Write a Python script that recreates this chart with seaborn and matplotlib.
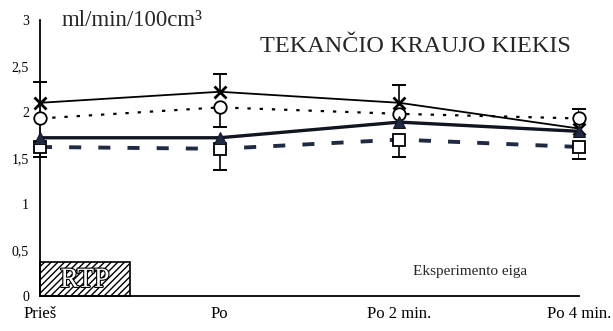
import numpy as np
import pandas as pd
import matplotlib
matplotlib.use("Agg")
import matplotlib.pyplot as plt
import matplotlib.patheffects as pe
import seaborn as sns
from matplotlib.patches import Rectangle

categories = ["Prieš", "Po", "Po 2 min.", "Po 4 min."]
x_series = [2.10, 2.22, 2.10, 1.82]
circle_series = [1.93, 2.05, 1.98, 1.93]
triangle_series = [1.72, 1.72, 1.89, 1.79]
square_series = [1.62, 1.60, 1.70, 1.62]
x_err_up = [0.23, 0.19, 0.19, 0.0]
circle_err_down = [0.0, 0.21, 0.0, 0.0]
circle_err_up = [0.0, 0.0, 0.0, 0.10]
square_err_down = [0.11, 0.23, 0.19, 0.13]
yticks = [0, 0.5, 1, 1.5, 2, 2.5, 3]
ytick_labels = ["0", "0,5", "1", "1,5", "2", "2,5", "3"]

sns.set_theme(style="white")
plt.rcParams["font.family"] = ["Liberation Serif", "DejaVu Serif"]

fig = plt.figure(figsize=(6.13, 3.31), dpi=100)
ax = fig.add_axes([40 / 613, 35 / 331, 539 / 613, 276 / 331])

pos = np.arange(len(categories))
df = pd.DataFrame({"pos": pos, "x": x_series, "c": circle_series,
                   "t": triangle_series, "s": square_series})

navy = "#1f2a44"
sns.lineplot(data=df, x="pos", y="x", ax=ax, color="black", lw=1.3,
             marker="x", markersize=9, markeredgewidth=2, markeredgecolor="black",
             clip_on=False, zorder=4)
sns.lineplot(data=df, x="pos", y="c", ax=ax, color="black", lw=1.6,
             linestyle=(0, (1.5, 4)), marker="o", markersize=9,
             markerfacecolor="white", markeredgecolor="black", markeredgewidth=1.3,
             clip_on=False, zorder=4)
sns.lineplot(data=df, x="pos", y="t", ax=ax, color="#111522", lw=2.4,
             marker="^", markersize=8, markerfacecolor=navy, markeredgecolor="#111522",
             clip_on=False, zorder=5)
sns.lineplot(data=df, x="pos", y="s", ax=ax, color=navy, lw=2.8,
             linestyle=(0, (3.1, 4.4)), marker="s", markersize=9,
             markerfacecolor="white", markeredgecolor="black", markeredgewidth=1.3,
             clip_on=False, zorder=4)


# error bars drawn only on the side where a value exists
def err_clean(xs, ys, lo, hi):
    xs = np.asarray(xs, float)
    ys = np.asarray(ys, float)
    for arr, sign in ((np.asarray(lo, float), -1), (np.asarray(hi, float), 1)):
        m = arr > 0
        if not m.any():
            continue
        ends = ys[m] + sign * arr[m]
        ax.vlines(xs[m], ys[m], ends, color="black", lw=1.2, zorder=3)
        ax.scatter(xs[m], ends, marker="_", s=110, color="black", linewidths=1.4,
                   zorder=3, clip_on=False)


err_clean(pos, x_series, np.zeros(4), x_err_up)
err_clean(pos, circle_series, circle_err_down, circle_err_up)
err_clean(pos, square_series, square_err_down, np.zeros(4))

# RTP hatched box
plt.rcParams["hatch.linewidth"] = 1.0
ax.add_patch(Rectangle((0, 0), 0.5, 0.37, facecolor="white", edgecolor="black",
                       hatch="/////", lw=1.2, zorder=2, clip_on=False))
ax.text(0.25, 0.17, "RTP", ha="center", va="center", fontsize=20,
        color="white", zorder=3,
        path_effects=[pe.withStroke(linewidth=1.6, foreground="black")])

ax.set_xlim(0, 3)
ax.set_ylim(0, 3)
ax.set_xticks(pos)
ax.set_xticklabels(categories, fontsize=12)
ax.set_yticks(yticks)
ax.set_yticklabels(ytick_labels, fontsize=10)
ax.set_xlabel("")
ax.set_ylabel("")
for sp in ["top", "right"]:
    ax.spines[sp].set_visible(False)
for sp in ["left", "bottom"]:
    ax.spines[sp].set_color("black")
    ax.spines[sp].set_linewidth(1.3)
ax.tick_params(axis="y", direction="inout", length=12, width=1.1, colors="black", pad=2)
ax.tick_params(axis="x", direction="inout", length=7, width=1.0, colors="black", pad=4)
ax.grid(False)

fig.text(62 / 613, 1 - 20 / 331, "ml/min/100cm³", fontsize=16.5, va="center", ha="left")
fig.text(415 / 613, 1 - 47 / 331, "TEKANČIO KRAUJO KIEKIS", fontsize=17.5,
         va="center", ha="center")
fig.text(470 / 613, 1 - 272 / 331, "Eksperimento eiga", fontsize=11, va="center", ha="center")

fig.savefig("out.png", dpi=100, facecolor="white")
